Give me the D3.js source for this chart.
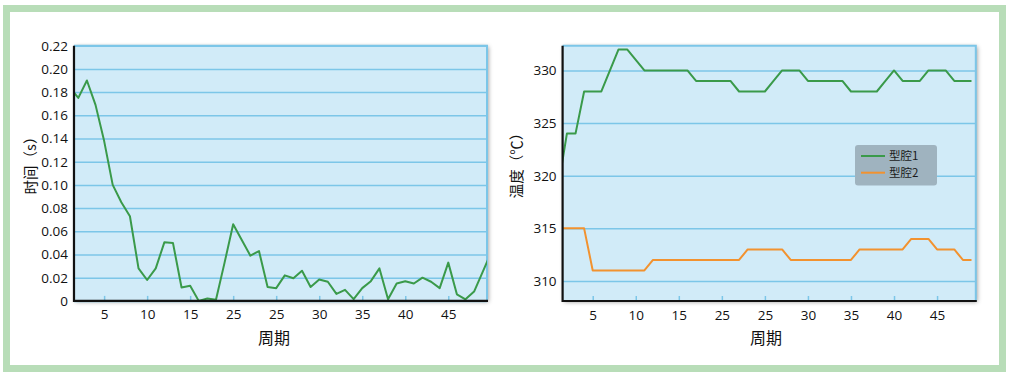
<!DOCTYPE html>
<html><head><meta charset="utf-8">
<script src="https://cdn.jsdelivr.net/npm/d3@7"></script>
<style>
html,body{margin:0;padding:0;background:#fff;}
svg{display:block;}
</style></head>
<body>
<svg id="c" width="1010" height="377"></svg>
<script>
// ---- data ----
const cyclesA = [1,2,3,4,5,6,7,8,9,10,11,12,13,14,15,16,17,18,19,20,21,22,23,24,25,26,27,28,29,30,31,32,33,34,35,36,37,38,39,40,41,42,43,44,45,46,47,48,49,50];
const timeValues = [0.184,0.175,0.190,0.169,0.138,0.100,0.085,0.073,0.028,0.018,0.028,0.0505,0.050,0.0115,0.013,0.000,0.002,0.001,0.033,0.066,0.0525,0.039,0.043,0.012,0.011,0.022,0.0195,0.026,0.012,0.0185,0.0165,0.006,0.0095,0.0015,0.011,0.017,0.028,0.0015,0.015,0.017,0.015,0.020,0.0165,0.011,0.033,0.0057,0.0014,0.008,0.025,0.042];
const cyclesB = [1,2,3,4,5,6,7,8,9,10,11,12,13,14,15,16,17,18,19,20,21,22,23,24,25,26,27,28,29,30,31,32,33,34,35,36,37,38,39,40,41,42,43,44,45,46,47,48,49];
const cavity1 = [319,324,324,328,328,328,330,332,332,331,330,330,330,330,330,330,329,329,329,329,329,328,328,328,328,329,330,330,330,329,329,329,329,329,328,328,328,328,329,330,329,329,329,330,330,330,329,329,329];
const cavity2 = [315,315,315,315,311,311,311,311,311,311,311,312,312,312,312,312,312,312,312,312,312,312,313,313,313,313,313,312,312,312,312,312,312,312,312,313,313,313,313,313,313,314,314,314,313,313,313,312,312];
const xTickValues = [5,10,15,20,25,30,35,40,45];
const xTickLabels = ["5","10","15","25","25","30","35","40","45"];
const yTicksA = [0,0.02,0.04,0.06,0.08,0.10,0.12,0.14,0.16,0.18,0.20,0.22];
const yTicksB = [310,315,320,325,330];
const seriesNames = ["型腔1","型腔2"];
const xTitle = "周期";
const yTitleA = "时间（s）";
const yTitleB = "温度（℃）";

// ---- styles ----
const GREEN = "#3a9a4a", ORANGE = "#f2922f";
const BG = "#d1ebf8", GRID = "#7cc6e8";
const FONT = "'Open Sans', 'Noto Sans', sans-serif";
const CJK = "'Noto Sans CJK SC', sans-serif";

const svg = d3.select("#c");
const defs = svg.append("defs");
const f = defs.append("filter").attr("id","sh").attr("x","-5%").attr("y","-5%").attr("width","110%").attr("height","110%");
f.append("feDropShadow").attr("dx",1.5).attr("dy",1).attr("stdDeviation",2).attr("flood-color","#000").attr("flood-opacity",0.4);

// outer frame
svg.append("rect").attr("x",6.5).attr("y",8.5).attr("width",996).attr("height",360)
  .attr("fill","#fff").attr("stroke","#b8ddb8").attr("stroke-width",7);

function panel(cfg){
  const {x0,x1,y0,y1,yDomain,yTicks,yFmt,id} = cfg;
  const x = d3.scaleLinear().domain([1.5,49.5]).range([x0,x1]);
  const y = d3.scaleLinear().domain(yDomain).range([y1,y0]);
  const g = svg.append("g");
  defs.append("clipPath").attr("id",id).append("rect")
    .attr("x",x0).attr("y",y0-1).attr("width",x1-x0).attr("height",y1-y0+1);
  g.append("rect").attr("x",x0).attr("y",y0).attr("width",x1-x0).attr("height",y1-y0)
    .attr("fill",BG).attr("filter","url(#sh)");
  // grid
  const grid = g.append("g").call(d3.axisLeft(y).tickValues(yTicks).tickSize(-(x1-x0)).tickFormat(""))
    .attr("transform",`translate(${x0},0)`);
  grid.select(".domain").remove();
  grid.selectAll("line").attr("stroke",GRID).attr("stroke-width",1.5);
  // y tick labels
  const ya = g.append("g").attr("transform",`translate(${x0},0)`)
    .call(d3.axisLeft(y).tickValues(yTicks).tickSize(0).tickPadding(6).tickFormat(yFmt));
  ya.select(".domain").remove();
  ya.selectAll("text").attr("font-family",FONT).attr("font-size",13.5).attr("fill","#111");
  // x ticks (inside, blue)
  const xa = g.append("g").attr("transform",`translate(0,${y1})`)
    .call(d3.axisTop(x).tickValues(xTickValues).tickSize(5).tickFormat(""));
  xa.select(".domain").remove();
  xa.selectAll("line").attr("stroke",GRID).attr("stroke-width",1.5);
  const xl = g.append("g").attr("transform",`translate(0,${y1})`)
    .call(d3.axisBottom(x).tickValues(xTickValues).tickSize(0).tickPadding(9)
      .tickFormat((d,i)=>xTickLabels[i]));
  xl.select(".domain").remove();
  xl.selectAll("text").attr("font-family",FONT).attr("font-size",13.5).attr("fill","#111");
  // border: top/right blue, left/bottom black
  g.append("path").attr("d",`M${x0},${y0}H${x1}V${y1}`).attr("fill","none").attr("stroke",GRID).attr("stroke-width",2);
  const cg = g.append("g").attr("clip-path",`url(#${id})`);
  g.append("path").attr("d",`M${x0},${y0}V${y1}H${x1+1}`).attr("fill","none").attr("stroke","#111").attr("stroke-width",2.2);
  return {x,y,g,cg};
}

// Left panel
const A = panel({x0:74,x1:487,y0:45.7,y1:300.9,yDomain:[0,0.22],yTicks:yTicksA,
  yFmt:d=> d===0?"0":d3.format(".2f")(d), id:"clipA"});
A.cg.append("path").datum(cyclesA.map((c,i)=>[c,timeValues[i]]))
  .attr("d",d3.line().x(d=>A.x(d[0])).y(d=>A.y(d[1])))
  .attr("fill","none").attr("stroke",GREEN).attr("stroke-width",2).attr("stroke-linejoin","round");

// Right panel
const B = panel({x0:562.6,x1:975.8,y0:45.7,y1:301,yDomain:[308.1,332.35],yTicks:yTicksB,
  yFmt:d3.format("d"), id:"clipB"});
const lineB = d3.line().x(d=>B.x(d[0])).y(d=>B.y(d[1]));
B.cg.append("path").datum(cyclesB.map((c,i)=>[c,cavity1[i]]))
  .attr("d",lineB).attr("fill","none").attr("stroke",GREEN).attr("stroke-width",2).attr("stroke-linejoin","round");
B.cg.append("path").datum(cyclesB.map((c,i)=>[c,cavity2[i]]))
  .attr("d",lineB).attr("fill","none").attr("stroke",ORANGE).attr("stroke-width",2).attr("stroke-linejoin","round");

// titles
svg.append("text").attr("x",274).attr("y",344).attr("text-anchor","middle")
  .attr("font-family",CJK).attr("font-size",16).attr("fill","#111").text(xTitle);
svg.append("text").attr("x",766).attr("y",344).attr("text-anchor","middle")
  .attr("font-family",CJK).attr("font-size",16).attr("fill","#111").text(xTitle);
svg.append("text").attr("transform","translate(36,162) rotate(-90)").attr("text-anchor","middle")
  .attr("font-family",CJK).attr("font-size",14.5).attr("fill","#111").text(yTitleA);
svg.append("text").attr("transform","translate(522,162) rotate(-90)").attr("text-anchor","middle")
  .attr("font-family",CJK).attr("font-size",14.5).attr("fill","#111").text(yTitleB);

// legend
const lg = svg.append("g").attr("transform","translate(855,145)");
lg.append("rect").attr("width",82).attr("height",40.5).attr("rx",3).attr("fill","#9fb3bf");
[GREEN,ORANGE].forEach((c,i)=>{
  lg.append("line").attr("x1",6).attr("x2",30).attr("y1",11+i*16.7).attr("y2",11+i*16.7)
    .attr("stroke",c).attr("stroke-width",2);
  lg.append("text").attr("x",34).attr("y",15+i*16.7).attr("font-family",CJK).attr("font-size",11.5)
    .attr("fill","#1a1a1a").text(seriesNames[i]);
});
</script>
</body></html>
